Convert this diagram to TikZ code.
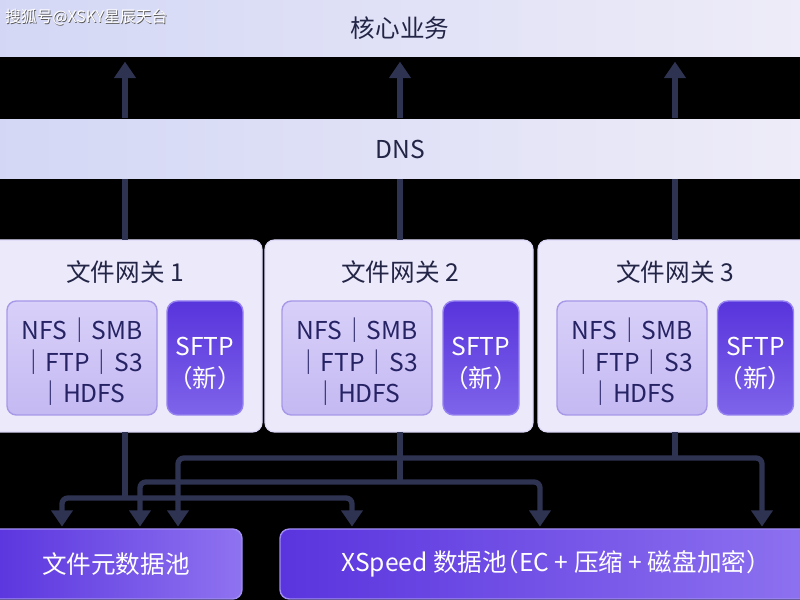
\documentclass[tikz,border=0pt]{standalone}
\usepackage{fontspec}
\setmainfont{Noto Sans CJK SC}
\newfontfamily\haltfont[RawFeature=+halt]{Noto Sans CJK SC}
\usetikzlibrary{arrows.meta,calc}
\newcommand\mystack[1]{\raisebox{-6pt}[\height][\depth]{\begin{tabular}{@{}c@{}}#1\end{tabular}}}
\definecolor{linecol}{RGB}{47,51,82}
\definecolor{bandL}{RGB}{211,215,245}
\definecolor{bandR}{RGB}{238,236,248}
\definecolor{titlecol}{RGB}{35,37,70}
\definecolor{gwfill}{RGB}{236,233,251}
\definecolor{gwborder}{RGB}{222,216,248}
\definecolor{protoT}{RGB}{216,208,249}
\definecolor{protoB}{RGB}{196,185,242}
\definecolor{protoborder}{RGB}{168,152,232}
\definecolor{prototext}{RGB}{38,35,100}
\definecolor{sftpT}{RGB}{88,52,220}
\definecolor{sftpB}{RGB}{126,100,234}
\definecolor{sftpborder}{RGB}{150,130,240}
\definecolor{poolL}{RGB}{90,52,222}
\definecolor{poolR}{RGB}{142,115,240}
\definecolor{poolborder}{RGB}{160,140,242}
\begin{document}
\begin{tikzpicture}[x=0.03cm,y=-0.03cm,
  every node/.style={inner sep=0pt,outer sep=0pt},
  txt/.style={font=\fontsize{21}{27}\selectfont},
  band/.style={txt,left color=bandL,right color=bandR,text=titlecol},
  gwbox/.style={fill=gwfill,draw=gwborder,line width=1pt,rounded corners=8pt},
  title/.style={txt,text=titlecol},
  protobox/.style={txt,top color=protoT,bottom color=protoB,draw=protoborder,line width=1.2pt,rounded corners=8pt,text=prototext,minimum width=150*0.03cm,minimum height=114*0.03cm},
  sftpbox/.style={txt,top color=sftpT,bottom color=sftpB,draw=sftpborder,line width=1.2pt,rounded corners=9pt,text=white,minimum width=76*0.03cm,minimum height=114*0.03cm},
  pool/.style={txt,left color=poolL,right color=poolR,draw=poolborder,line width=1.2pt,rounded corners=8pt,text=white,minimum height=70*0.03cm},
  conn/.style={draw=linecol,line width=4.5pt,rounded corners=5pt},
  tip/.style={-{Triangle[width=18pt,length=14pt]}},
  tips/.style={{Triangle[width=18pt,length=14pt]}-{Triangle[width=18pt,length=14pt]}}
]
\useasboundingbox (0,0) rectangle (800,600);
\fill[black] (0,0) rectangle (800,600);

% bands
\node[band,minimum width=24.6cm,minimum height=57*0.03cm] (core) at (400,28.5) {核心业务};
\node[band,minimum width=24.6cm,minimum height=59*0.03cm] (dns) at (400,149.5) {DNS};

% watermark
\node[font=\fontsize{13.5}{15}\selectfont,text=gray!70!black] (wm0) at (87,18) {搜狐号@XSKY星辰天台};
\node[font=\fontsize{13.5}{15}\selectfont,text=white] (wm) at (86.3,17.3) {搜狐号@XSKY星辰天台};

% column coordinates
\coordinate (c1) at (125,0);
\coordinate (c2) at (400,0);
\coordinate (c3) at (675,0);

% gateways
\node[gwbox,minimum width=272*0.03cm,minimum height=192*0.03cm] (gw1) at (126,336) {};
\node[gwbox,minimum width=268*0.03cm,minimum height=192*0.03cm] (gw2) at (399,336) {};
\node[gwbox,minimum width=272*0.03cm,minimum height=192*0.03cm] (gw3) at (674,336) {};

\node[title] (t1) at (125,272) {文件网关 1};
\node[title] (t2) at (400,272) {文件网关 2};
\node[title] (t3) at (675,272) {文件网关 3};

\node[protobox] (p1) at (82,358) {\mystack{NFS｜SMB\\｜FTP｜S3\\｜HDFS}};
\node[protobox] (p2) at (357,358) {\mystack{NFS｜SMB\\｜FTP｜S3\\｜HDFS}};
\node[protobox] (p3) at (632,358) {\mystack{NFS｜SMB\\｜FTP｜S3\\｜HDFS}};

\node[sftpbox] (s1) at (205,358) {\mystack{SFTP\\（新）}};
\node[sftpbox] (s2) at (481,358) {\mystack{SFTP\\（新）}};
\node[sftpbox] (s3) at (755.5,358) {\mystack{SFTP\\（新）}};

% pools
\node[pool,minimum width=252*0.03cm] (meta) at (116,564) {文件元数据池};
\node[pool,minimum width=540*0.03cm] (xs) at (550,564) {XSpeed 数据池{\haltfont（}EC + 压缩 + 磁盘加密{\haltfont）}};

% up arrows DNS -> core
\foreach \c in {c1,c2,c3}{
  \draw[conn,tip,shorten <=2pt,shorten >=4pt] (dns.north -| \c) -- (core.south -| \c);
}
% DNS -> gateways
\draw[conn] (dns.south -| c1) -- (gw1.north -| c1);
\draw[conn] (dns.south -| c2) -- (gw2.north -| c2);
\draw[conn] (dns.south -| c3) -- (gw3.north -| c3);

% junction coordinates
\coordinate (j1) at (125,498);
\coordinate (j2) at (400,482);
\coordinate (j3) at (675,458);
\coordinate (a1) at (62,0);
\coordinate (a2) at (352,0);
\coordinate (b1) at (140,0);
\coordinate (b2) at (540,0);
\coordinate (d1) at (178,0);
\coordinate (d2) at (762,0);

% gateway 3 distribution
\draw[conn] (gw3.south -| c3) -- (j3);
\draw[conn,tips,shorten <=2pt,shorten >=2pt] (meta.north -| d1) -- (d1 |- j3) -- (d2 |- j3) -- (xs.north -| d2);
% gateway 2 distribution
\draw[conn] (gw2.south -| c2) -- (j2);
\draw[conn,tips,shorten <=2pt,shorten >=2pt] (meta.north -| b1) -- (b1 |- j2) -- (b2 |- j2) -- (xs.north -| b2);
% gateway 1 distribution
\draw[conn] (gw1.south -| c1) -- (j1);
\draw[conn,tips,shorten <=2pt,shorten >=2pt] (meta.north -| a1) -- (a1 |- j1) -- (a2 |- j1) -- (xs.north -| a2);
\end{tikzpicture}
\end{document}
